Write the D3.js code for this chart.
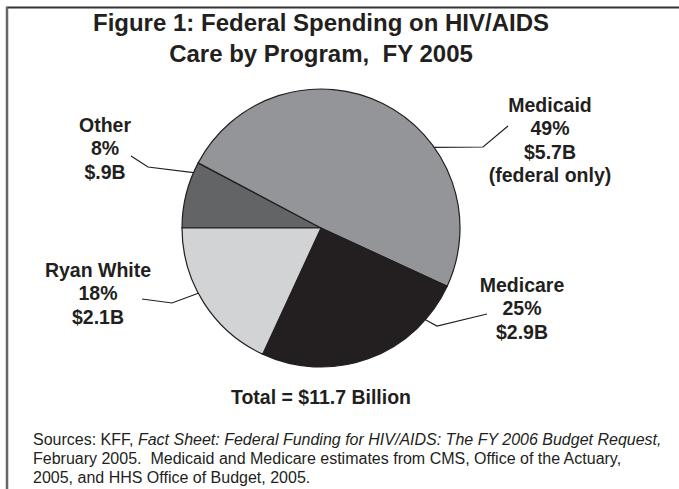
<!DOCTYPE html>
<html lang="en">
<head>
    <meta charset="UTF-8">
    <title>Federal Spending on HIV/AIDS Care by Program, FY 2005</title>
    <style>
        body {
            margin: 0;
            background: #ffffff;
        }
        svg text {
            font-family: "Liberation Sans", Arial, sans-serif;
            fill: #231f20;
            white-space: pre;
        }
    </style>
    <script src="https://d3js.org/d3.v7.min.js"></script>
</head>
<body>
<div id="chart"></div>

<script>
    // Data
    const programs = ["Other", "Medicaid", "Medicare", "Ryan White"];
    const billions = [0.9, 5.7, 2.9, 2.1];
    const percentLabels = ["8%", "49%", "25%", "18%"];
    const amountLabels = ["$.9B", "$5.7B", "$2.9B", "$2.1B"];
    const extraLabels = ["", "(federal only)", "", ""];
    const sliceColors = ["#636466", "#939598", "#231f20", "#d1d3d4"];

    const titleLines = ["Figure 1: Federal Spending on HIV/AIDS", "Care by Program,  FY 2005"];
    const totalLabel = "Total = $11.7 Billion";

    // Label placement: where the leader leaves the pie (degrees, clockwise from top),
    // the elbow, the line end and the label anchor
    const labelLayout = [
        { angle: -66.5, elbow: [148, 167], end: [131, 156], text: [105, 132] },
        { angle: 54.5, elbow: [483, 147], end: [508, 126], text: [550, 112] },
        { angle: 131.3, elbow: [437, 326], end: [487, 314], text: [522, 292] },
        { angle: 242, elbow: [172, 303], end: [142, 299], text: [98, 277] }
    ];

    const W = 679, H = 489;
    const cx = 321, cy = 228, radius = 139;

    const svg = d3.select("#chart").append("svg")
        .attr("width", W)
        .attr("height", H);

    // Frame (top and left edges only, as in the scan)
    svg.append("line")
        .attr("x1", 6).attr("x2", W)
        .attr("y1", 7.5).attr("y2", 7.5)
        .attr("stroke", "#333")
        .attr("stroke-width", 2);
    svg.append("line")
        .attr("x1", 7).attr("x2", 7)
        .attr("y1", 7).attr("y2", H)
        .attr("stroke", "#666")
        .attr("stroke-width", 2.5);

    // Title
    svg.selectAll(".title")
        .data(titleLines)
        .enter().append("text")
        .attr("class", "title")
        .attr("x", 321)
        .attr("y", (d, i) => 31 + i * 31)
        .attr("text-anchor", "middle")
        .style("font-size", "24px")
        .style("font-weight", "bold")
        .text(d => d);

    // Pie
    const data = programs.map((p, i) => ({ name: p, value: billions[i], i: i }));
    const pie = d3.pie()
        .value(d => d.value)
        .sort(null)
        .startAngle(-Math.PI / 2)
        .endAngle(1.5 * Math.PI);
    const arc = d3.arc().innerRadius(0).outerRadius(radius);

    const g = svg.append("g").attr("transform", `translate(${cx},${cy})`);
    g.selectAll("path")
        .data(pie(data))
        .enter().append("path")
        .attr("d", arc)
        .attr("fill", d => sliceColors[d.data.i])
        .attr("stroke", "#231f20")
        .attr("stroke-width", 1.2);

    // Leader lines and labels
    labelLayout.forEach((l, i) => {
        const a = l.angle * Math.PI / 180;
        const sx = cx + radius * Math.sin(a);
        const sy = cy - radius * Math.cos(a);
        svg.append("polyline")
            .attr("points", [[sx, sy], l.elbow, l.end].map(p => p.join(",")).join(" "))
            .attr("fill", "none")
            .attr("stroke", "#231f20")
            .attr("stroke-width", 1.2);

        const lines = [programs[i], percentLabels[i], amountLabels[i]];
        if (extraLabels[i]) lines.push(extraLabels[i]);
        const t = svg.append("text")
            .attr("text-anchor", "middle")
            .style("font-size", "19.5px")
            .style("font-weight", "bold");
        lines.forEach((s, k) => {
            t.append("tspan")
                .attr("x", l.text[0])
                .attr("y", l.text[1] + k * 23.3)
                .text(s);
        });
    });

    // Total
    svg.append("text")
        .attr("x", 321)
        .attr("y", 404)
        .attr("text-anchor", "middle")
        .style("font-size", "19.5px")
        .style("font-weight", "bold")
        .text(totalLabel);

    // Source note
    const src = svg.append("text")
        .style("font-size", "16px");
    const l1 = src.append("tspan").attr("x", 33).attr("y", 445);
    l1.append("tspan").text("Sources: KFF, ");
    l1.append("tspan").style("font-style", "italic")
        .text("Fact Sheet: Federal Funding for HIV/AIDS: The FY 2006 Budget Request,");
    src.append("tspan").attr("x", 33).attr("y", 464)
        .text("February 2005.  Medicaid and Medicare estimates from CMS, Office of the Actuary,");
    src.append("tspan").attr("x", 33).attr("y", 483)
        .text("2005, and HHS Office of Budget, 2005.");
</script>
</body>
</html>
